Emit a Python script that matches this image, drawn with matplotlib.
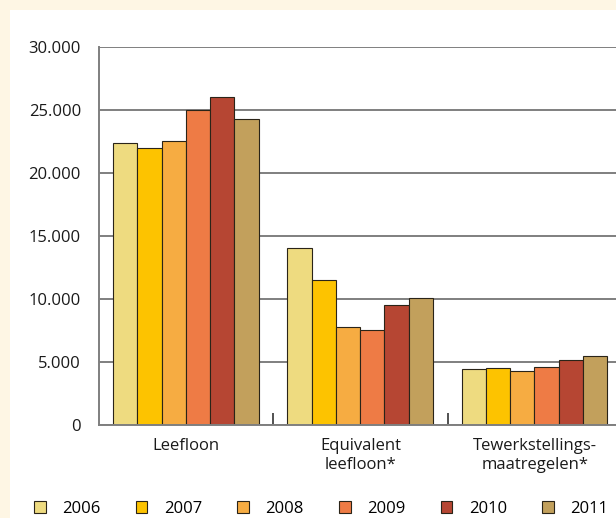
import matplotlib.pyplot as plt
from matplotlib.patches import Rectangle, Patch
from matplotlib.ticker import FuncFormatter
import numpy as np

plt.rcParams['font.family'] = ['Open Sans', 'DejaVu Sans']

categories = ['Leefloon', 'Equivalent\nleefloon*', 'Tewerkstellings-\nmaatregelen*']
years = ['2006', '2007', '2008', '2009', '2010', '2011']
colors = ['#eedb80', '#fdc300', '#f6ac42', '#ee7b45', '#b64633', '#c2a05c']
values = {
    '2006': [22350, 14000, 4450],
    '2007': [22000, 11500, 4550],
    '2008': [22500, 7800, 4300],
    '2009': [24950, 7550, 4600],
    '2010': [26000, 9500, 5150],
    '2011': [24250, 10050, 5500],
}

W, H = 616, 518
fig = plt.figure(figsize=(W / 100, H / 100), dpi=100)
fig.patch.set_facecolor('#fef6e4')
fig.add_artist(Rectangle((10 / W, 0), 1, 1 - 10 / H, transform=fig.transFigure,
                         facecolor='white', edgecolor='none', zorder=-5))

ax = fig.add_axes([99 / W, 93 / H, 523 / W, (425 - 46.7) / H])
ax.set_facecolor('none')

x = np.arange(len(categories))
bw = 0.1393
start = -0.5 + 0.08
for i, y in enumerate(years):
    ax.bar(x + start + bw * (i + 0.5), values[y], width=bw, color=colors[i],
           edgecolor='#2a2418', linewidth=0.8, zorder=3)

ax.set_xlim(-0.5, 2.5)
ax.set_ylim(0, 30000)
ax.set_yticks(np.arange(0, 30001, 5000))
ax.yaxis.set_major_formatter(FuncFormatter(lambda v, p: f'{int(v):,}'.replace(',', '.')))
ax.yaxis.grid(True, color='#7f7f7f', linewidth=1.4, zorder=1)
ax.set_axisbelow(True)
ax.tick_params(axis='y', length=0, pad=13, labelsize=12, labelcolor='#1a1a1a')

ax.set_xticks(x)
ax.set_xticklabels(categories, linespacing=1.3)
ax.tick_params(axis='x', length=0, pad=9, labelsize=12, labelcolor='#1a1a1a')
ax.set_xticks([0.5, 1.5], minor=True)
ax.tick_params(axis='x', which='minor', direction='in', length=9, width=1.2, color='#333333')

for s in ['top', 'right']:
    ax.spines[s].set_visible(False)
for s in ['left', 'bottom']:
    ax.spines[s].set_color('#7f7f7f')
    ax.spines[s].set_linewidth(1.4)
    ax.spines[s].set_zorder(4)

handles = [Patch(facecolor=c, edgecolor='#2a2418', linewidth=0.8) for c in colors]
fig.legend(handles, years, loc='lower left', bbox_to_anchor=(34 / W, 1 / H), ncol=6,
           frameon=False, fontsize=12, handlelength=0.7, handleheight=0.7,
           handletextpad=1.0, columnspacing=2.1, borderpad=0, borderaxespad=0)

fig.savefig('out.png', dpi=100, facecolor=fig.get_facecolor())
